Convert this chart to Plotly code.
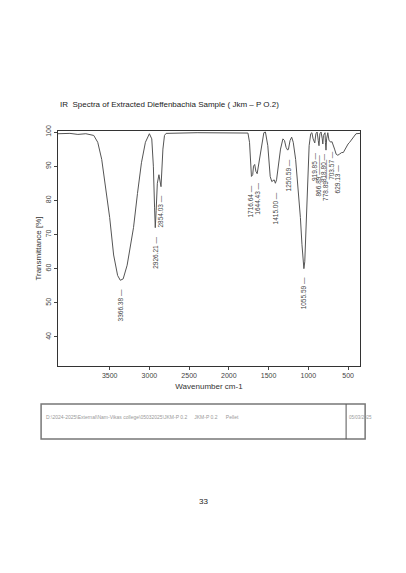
import plotly.graph_objects as go

# IR spectrum (wavenumber cm-1, transmittance %)
wavenumber = [4150, 4000, 3900, 3800, 3700, 3650, 3600, 3550, 3500, 3450, 3400, 3366, 3330, 3280, 3200,
              3150, 3100, 3050, 3000, 2970, 2950, 2935, 2926, 2915, 2900, 2880, 2870, 2854, 2845, 2830,
              2810, 2790, 2400, 2000, 1760, 1740, 1725, 1716, 1700, 1690, 1675, 1660, 1644, 1620, 1580,
              1560, 1540, 1510, 1480, 1460, 1430, 1415, 1400, 1380, 1350, 1320, 1300, 1280, 1260, 1250,
              1230, 1210, 1190, 1160, 1130, 1100, 1080, 1065, 1056, 1045, 1030, 1010, 990, 970, 955,
              940, 919, 905, 890, 875, 866, 855, 840, 825, 818, 810, 790, 785, 778, 770, 755, 740, 715,
              703, 690, 670, 650, 629, 610, 580, 560, 540, 520, 500, 480, 450, 420, 400, 350]
transmittance = [99.5, 99.6, 99.3, 99.5, 99.0, 97.0, 92.0, 84.0, 75.0, 64.0, 58.0, 56.6, 57.0, 61.0, 72.0,
                 82.0, 91.0, 97.0, 99.5, 98.0, 90.0, 78.0, 72.0, 77.0, 85.0, 87.5, 86.0, 84.0, 88.0, 95.0,
                 99.0, 99.6, 99.8, 99.8, 99.7, 97.0, 90.0, 87.0, 87.5, 90.0, 90.5, 88.5, 87.8, 91.0, 97.0,
                 99.8, 100.0, 96.0, 87.0, 85.5, 86.0, 85.0, 86.0, 90.0, 95.0, 98.0, 97.5, 95.5, 94.7, 95.0,
                 97.5, 98.5, 97.0, 92.0, 84.0, 75.0, 67.0, 61.0, 60.0, 62.0, 72.0, 85.0, 96.0, 99.5, 99.8,
                 98.0, 96.8, 99.5, 100.0, 97.5, 96.0, 99.5, 100.0, 98.0, 96.5, 99.0, 99.8, 97.0, 94.7, 98.0,
                 99.8, 97.5, 97.0, 97.2, 96.0, 95.0, 93.5, 93.2, 93.5, 94.0, 94.0, 95.0, 95.5, 96.5, 97.0,
                 98.0, 99.0, 99.5, 99.6]

peak_labels = ["3366.38", "2926.21", "2854.03", "1716.64", "1644.43", "1415.00", "1250.59",
               "1055.59", "919.85", "866.89", "818.80", "778.89", "703.57", "629.13"]
peak_x = [3366, 2926, 2854, 1730, 1644, 1415, 1250, 1056, 919, 866, 818, 778, 703, 629]
peak_y = [56.6, 72.0, 84.0, 87.0, 87.8, 85.0, 94.7, 60.0, 96.8, 96.0, 96.5, 94.7, 97.2, 93.2]
dash_len = [1, 1, 1, 1, 1, 1, 1, 1, 1, 3, 1, 3, 1, 1]

fig = go.Figure()
fig.add_trace(go.Scatter(x=wavenumber, y=transmittance, mode="lines",
                         line=dict(color="#555555", width=1), showlegend=False))

small = dict(family="Liberation Sans, Arial", size=7, color="#444444")
lab_font = dict(family="Liberation Sans Narrow, Liberation Sans, Arial", size=6.5, color="#444444")
for lab, px, py, n in zip(peak_labels, peak_x, peak_y, dash_len):
    fig.add_annotation(x=px, y=py - 2, text=lab + " " + "—" * n, textangle=-90, showarrow=False,
                       xanchor="center", yanchor="top", font=lab_font)

# page decorations (paper coordinates relative to the plot area)
fig.add_annotation(xref="paper", yref="paper", x=0.0, y=1.14, xanchor="left", showarrow=False,
                   text="IR  Spectra of Extracted Dieffenbachia Sample ( Jkm – P O.2)",
                   font=dict(family="Liberation Sans, Arial", size=8, color="#222222"))
fig.add_shape(type="rect", xref="paper", yref="paper", x0=-0.056, x1=1.017, y0=-0.311, y1=-0.162,
              line=dict(color="#777777", width=1.5))
fig.add_shape(type="line", xref="paper", yref="paper", x0=0.954, x1=0.954, y0=-0.311, y1=-0.162,
              line=dict(color="#555555", width=1))
fig.add_annotation(xref="paper", yref="paper", x=-0.045, y=-0.238, xanchor="left", showarrow=False,
                   text="D:\\2024-2025\\External\\Nam-Vikas college\\05032025\\JKM-P 0.2"
                        "&nbsp;&nbsp;&nbsp;&nbsp;&nbsp;JKM-P 0.2&nbsp;&nbsp;&nbsp;&nbsp;&nbsp;&nbsp;Pellet",
                   font=dict(family="Liberation Sans, Arial", size=5, color="#999999"))
fig.add_annotation(xref="paper", yref="paper", x=0.958, y=-0.238, xanchor="left", showarrow=False,
                   text="05/03/2025", font=dict(family="Liberation Sans, Arial", size=4.5, color="#999999"))
fig.add_annotation(xref="paper", yref="paper", x=0.483, y=-0.604, showarrow=False, text="33",
                   font=dict(family="Liberation Sans, Arial", size=8, color="#222222"))

fig.update_xaxes(range=[4150, 350], tickvals=[3500, 3000, 2500, 2000, 1500, 1000, 500],
                 ticks="outside", ticklen=3, showgrid=False, zeroline=False,
                 showline=True, linecolor="#333333", mirror=True, tickfont=small,
                 title=dict(text="Wavenumber cm-1", font=dict(family="Liberation Sans, Arial", size=8,
                                                               color="#333333"), standoff=4))
fig.update_yaxes(range=[31.5, 100.3], tickvals=[40, 50, 60, 70, 80, 90, 100], tickangle=-90,
                 ticks="outside", ticklen=3, showgrid=False, zeroline=False,
                 showline=True, linecolor="#333333", mirror=True, tickfont=small,
                 title=dict(text="Transmittance [%]", font=dict(family="Liberation Sans, Arial", size=8,
                                                                 color="#333333"), standoff=2))
fig.update_layout(width=406, height=573, margin=dict(l=50, r=54, t=123, b=215),
                  paper_bgcolor="white", plot_bgcolor="white")
fig.write_html("out.html")
